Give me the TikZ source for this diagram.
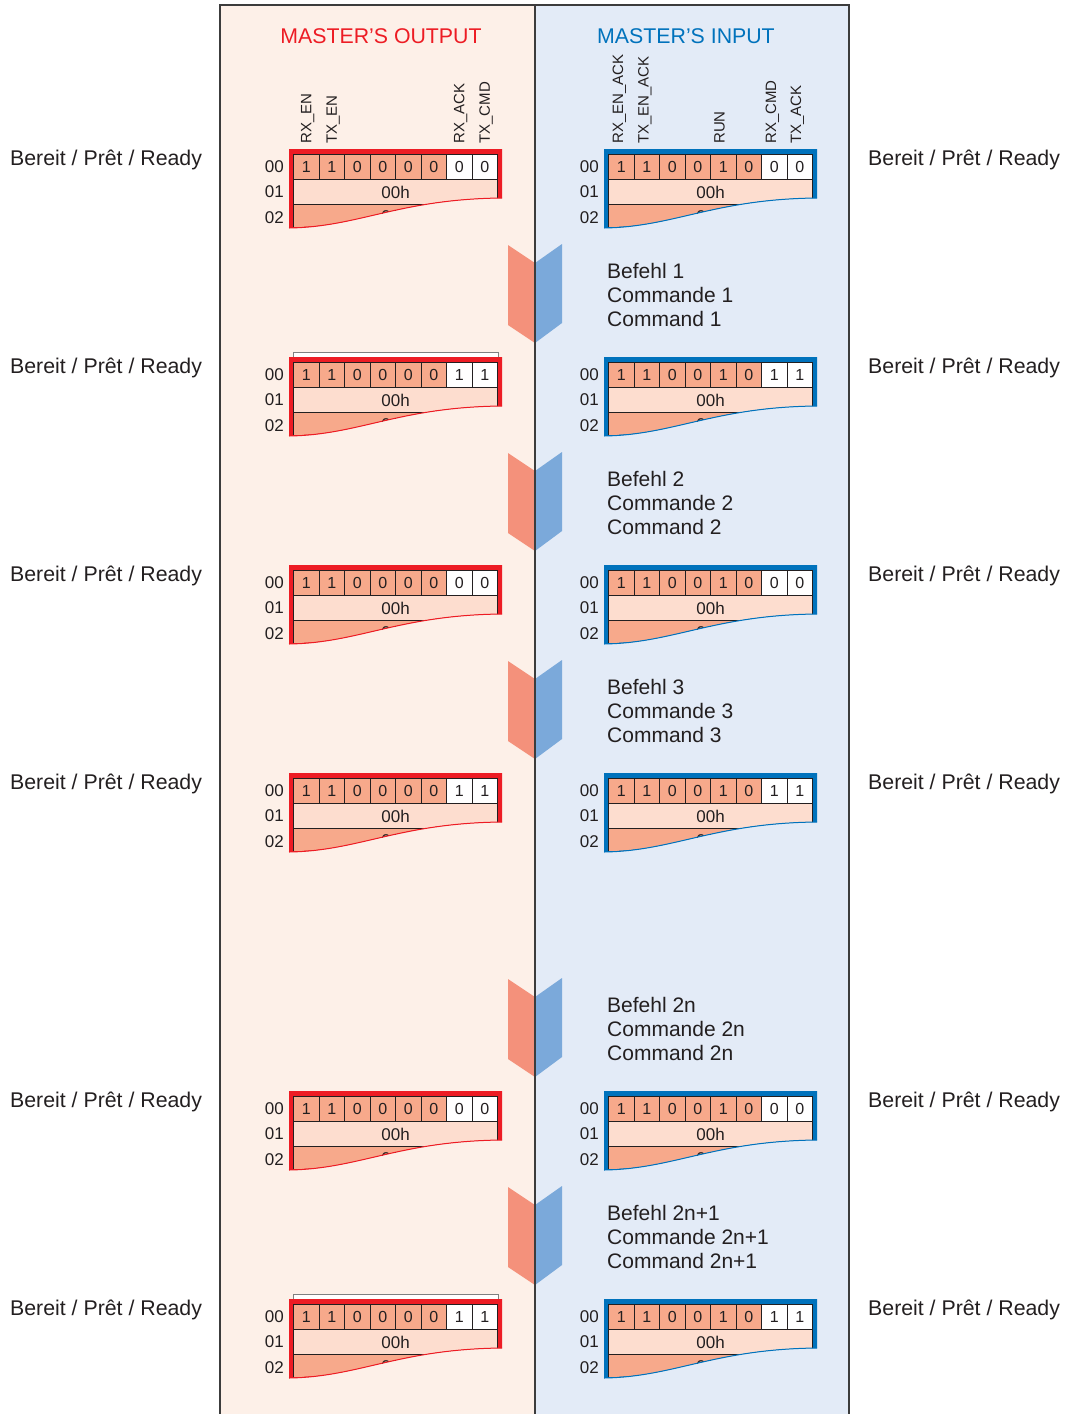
\documentclass[tikz,border=0pt]{standalone}
\usepackage{fontspec}
\setmainfont{Liberation Sans}
\usepackage{xcolor}
\usepackage{tikz}
\usetikzlibrary{positioning}
\definecolor{rouge}{HTML}{ED1C24}
\definecolor{bleu}{HTML}{0072BC}
\definecolor{fondsortie}{HTML}{FDF0E8}
\definecolor{fondentree}{HTML}{E3EBF7}
\definecolor{saumon}{HTML}{F7A98B}
\definecolor{rose}{HTML}{FDDDCF}
\definecolor{trait}{HTML}{231F20}
\definecolor{cadregris}{HTML}{3C3C3C}
\definecolor{chevronrouge}{HTML}{F4917B}
\definecolor{chevronbleu}{HTML}{7BA9DA}
\tikzset{
  bit/.style={rectangle, draw=trait, line width=1.3pt, minimum width=25.5pt,
    minimum height=25pt, inner sep=0pt, text=trait,
    font=\fontsize{16}{16}\selectfont, anchor=north west},
  ligne/.style={rectangle, draw=trait, line width=1.3pt, minimum width=204pt,
    minimum height=25pt, inner sep=0pt, text=trait,
    font=\fontsize{17}{17}\selectfont, anchor=north west},
  adresse/.style={font=\fontsize{17}{17}\selectfont, anchor=east, inner sep=0pt, text=trait},
  signal/.style={font=\fontsize{15}{15}\selectfont, rotate=90, anchor=base west,
    inner sep=0pt, text=trait},
  etat/.style={font=\fontsize{21.3}{21.3}\selectfont, anchor=base west, inner sep=0pt, text=trait},
  titre/.style={font=\fontsize{21.3}{21.3}\selectfont, anchor=base, inner sep=0pt},
  commande/.style={font=\fontsize{21}{24}\selectfont, align=left, anchor=north west,
    inner sep=0pt, text=trait},
  lasche/.style={draw=gray, fill=white, line width=0.8pt},
  vague/.style={line width=1pt},
  cadre/.style={draw=cadregris, line width=1.2pt}
}
% #1 x, #2 y, #3 bit RUN, #4 bits ACK/CMD, #5 couleur, #6 nom
\newcommand{\registre}[6]{%
  \begin{scope}[shift={(#1,#2)}]
    \fill[#5] (0,0) -- (213,0) -- (213,49) .. controls (110,50) and (70,78) .. (0,79) -- cycle;
    \begin{scope}
      \clip (4,5) -- (209,5) -- (209,49) .. controls (110,50) and (70,78) .. (4,78) -- cycle;
      \node[ligne, fill=saumon] (#6-02) at (4,55) {\raisebox{2pt}{00h}};
      \node[ligne, fill=rose] (#6-01) at (4,30) {00h};
    \end{scope}
    \foreach \b/\fond [count=\k from 0] in {1/saumon,1/saumon,0/saumon,0/saumon,#3/saumon,0/saumon,#4/white,#4/white}
      \node[bit, fill=\fond] (#6-b\k) at (4+25.5*\k,5) {\b};
    \draw[#5, vague] (213,49) .. controls (110,50) and (70,78) .. (0,79);
    \node[adresse] (#6-a0) at (-5,17.5) {00};
    \node[adresse] (#6-a1) at (-5,43) {01};
    \node[adresse] (#6-a2) at (-5,69) {02};
  \end{scope}}

\begin{document}
\begin{tikzpicture}[x=1pt, y=-1pt]
  \useasboundingbox (0,0) rectangle (1066,1414);
  \fill[fondsortie] (220,5) rectangle (535,1414);
  \fill[fondentree] (535,5) rectangle (849,1414);
  \draw[cadre] (220,1414) -- (220,5) -- (849,5) -- (849,1414);

  \node[titre, text=rouge] (titresortie) at (381,43.5) {MASTER’S OUTPUT};
  \node[titre, text=bleu] (titreentree) at (686,43.5) {MASTER’S INPUT};

  % noms des bits
  \node[signal] (rxen) at (311.3,144) {RX\_EN};
  \node[signal] (txen) at (336.8,144) {TX\_EN};
  \node[signal] (rxack) at (464.3,144) {RX\_ACK};
  \node[signal] (txcmd) at (489.8,144) {TX\_CMD};
  \node[signal] (rxenack) at (623,144) {RX\_EN\_ACK};
  \node[signal] (txenack) at (648.5,144) {TX\_EN\_ACK};
  \node[signal] (run) at (724.5,144) {RUN};
  \node[signal] (rxcmd) at (776,144) {RX\_CMD};
  \node[signal] (txack) at (801,144) {TX\_ACK};

  \draw[lasche] (293,352) rectangle (498,357);
  \draw[lasche] (293,1294) rectangle (498,1299);

  \foreach \oy/\ack/\i in {149/0/1, 357/1/2, 565/0/3, 773/1/4, 1091/0/5, 1299/1/6} {
    \registre{289}{\oy}{0}{\ack}{rouge}{sortie\i}
    \registre{604}{\oy}{1}{\ack}{bleu}{entree\i}
    \node[etat] (pretgauche\i) at (10,\oy+16.5) {Bereit / Prêt / Ready};
    \node[etat] (pretdroite\i) at (868,\oy+16.5) {Bereit / Prêt / Ready};
  }

  \foreach \cy/\nr [count=\j] in {245/1, 453/2, 661/3, 979/2n, 1187/2n+1} {
    \fill[chevronrouge] (508,\cy) -- (535,\cy+18) -- (535,\cy+98) -- (508,\cy+80) -- cycle;
    \fill[chevronbleu] (535,\cy+18) -- (562,\cy-1) -- (562,\cy+78) -- (535,\cy+98) -- cycle;
    \node[commande] (befehl\j) at (607,\cy+18) {Befehl \nr\\Commande \nr\\Command \nr};
  }
  \draw[cadre] (535,5) -- (535,1414);
\end{tikzpicture}
\end{document}
